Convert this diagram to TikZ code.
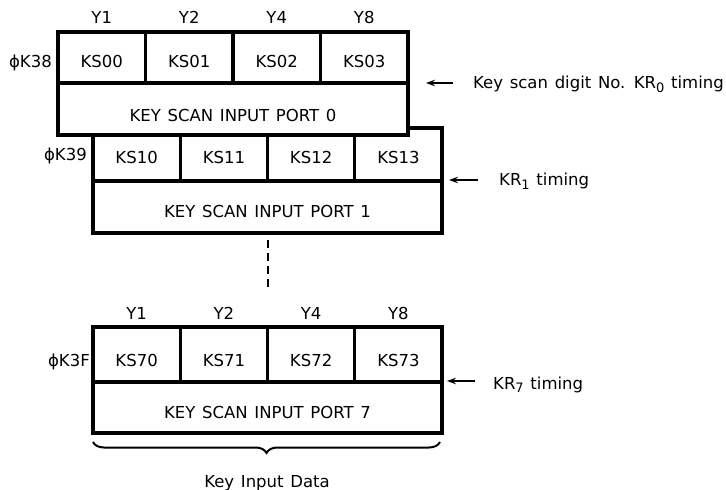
\documentclass[tikz,border=0pt]{standalone}
\usepackage{fontspec}
\setmainfont{DejaVu Sans}
\usetikzlibrary{arrows.meta,decorations.pathreplacing}
\newcommand{\widesp}{\spaceskip=6.7bp\relax}
\begin{document}
\begin{tikzpicture}[x=1bp,y=-1bp,
  font=\fontsize{16.5bp}{19bp}\selectfont,
  execute at begin node={\widesp},
  box/.style={draw, line width=3.3bp, fill=white, inner sep=0pt, text depth=0pt},
  cellA/.style={box, minimum width=87.5bp, minimum height=51bp, text height=21bp},
  cellB/.style={box, minimum width=87.25bp, minimum height=53bp, text height=19bp},
  cellC/.style={box, minimum width=87.25bp, minimum height=55bp, text height=24bp},
  lbl/.style={inner sep=0pt, text height=12bp, text depth=0pt},
  arr/.style={line width=1.7bp, -{Stealth[length=9bp,width=6.5bp]}}
]
\useasboundingbox (0,0) rectangle (726,490);

% ---- block 1 (behind block 0)
\node[cellB] (c10) at (136.6,154.5) {KS10};
\node[cellB] (c11) at (223.9,154.5) {KS11};
\node[cellB] (c12) at (311.1,154.5) {KS12};
\node[cellB] (c13) at (398.4,154.5) {KS13};
\node[box, minimum width=349bp, minimum height=52bp, text height=22bp] (p1) at (267.5,207) {KEY SCAN INPUT PORT 1};

% ---- block 0
\node[cellA] (c00) at (101.75,57.5) {KS00};
\node[cellA] (c01) at (189.25,57.5) {KS01};
\node[cellA] (c02) at (276.75,57.5) {KS02};
\node[cellA] (c03) at (364.25,57.5) {KS03};
\node[box, minimum width=350bp, minimum height=52bp, text height=26bp] (p0) at (233,109) {KEY SCAN INPUT PORT 0};

% ---- block 7
\node[cellC] (c70) at (136.6,354.5) {KS70};
\node[cellC] (c71) at (223.9,354.5) {KS71};
\node[cellC] (c72) at (311.1,354.5) {KS72};
\node[cellC] (c73) at (398.4,354.5) {KS73};
\node[box, minimum width=349bp, minimum height=51bp, text height=22bp] (p7) at (267.5,407.5) {KEY SCAN INPUT PORT 7};

% ---- column labels
\node[lbl] (y01) at (c00.center |- 0,18) {Y1};
\node[lbl] (y02) at (c01.center |- 0,18) {Y2};
\node[lbl] (y04) at (c02.center |- 0,18) {Y4};
\node[lbl] (y08) at (c03.center |- 0,18) {Y8};
\node[lbl] (y71) at (c70.center |- 0,313) {Y1};
\node[lbl] (y72) at (c71.center |- 0,313) {Y2};
\node[lbl] (y74) at (c72.center |- 0,313) {Y4};
\node[lbl] (y78) at (c73.center |- 0,313) {Y8};

% ---- row labels
\node[lbl, anchor=east] (k38) at (52,62) {ϕK38};
\node[lbl, anchor=east] (k39) at (87,155) {ϕK39};
\node[lbl, anchor=east] (k3f) at (90,360) {ϕK3F};

% ---- timing labels and arrows
\node[lbl, anchor=west] (kr0) at (473,83) {Key scan digit No. KR\raisebox{-3.5bp}{\fontsize{13bp}{13bp}\selectfont 0} timing};
\node[lbl, anchor=west] (kr1) at (499,180) {KR\raisebox{-3.5bp}{\fontsize{13bp}{13bp}\selectfont 1} timing};
\node[lbl, anchor=west] (kr7) at (493,383) {KR\raisebox{-3.5bp}{\fontsize{13bp}{13bp}\selectfont 7} timing};
\coordinate (t0) at (426,83);
\coordinate (t1) at (449,180);
\coordinate (t7) at (447,381);
\draw[arr] ([xshift=-20bp]kr0.west) -- (t0);
\draw[arr] ([xshift=-21bp]kr1.west) -- (t1);
\draw[arr] ([xshift=-18bp]kr7.west |- t7) -- (t7);

% ---- dashed continuation
\coordinate (d1) at (268,240);
\coordinate (d2) at (268,287);
\draw[line width=2.6bp, dash pattern=on 8bp off 5bp] (d1) -- (d2);

% ---- brace
\coordinate (b1) at (93,442);
\coordinate (b2) at (440,442);
\draw[line width=2bp, decorate, decoration={brace, amplitude=11bp, mirror}] (b1) -- (b2);
\node[lbl] (kid) at (267,481) {Key Input Data};
\end{tikzpicture}
\end{document}
